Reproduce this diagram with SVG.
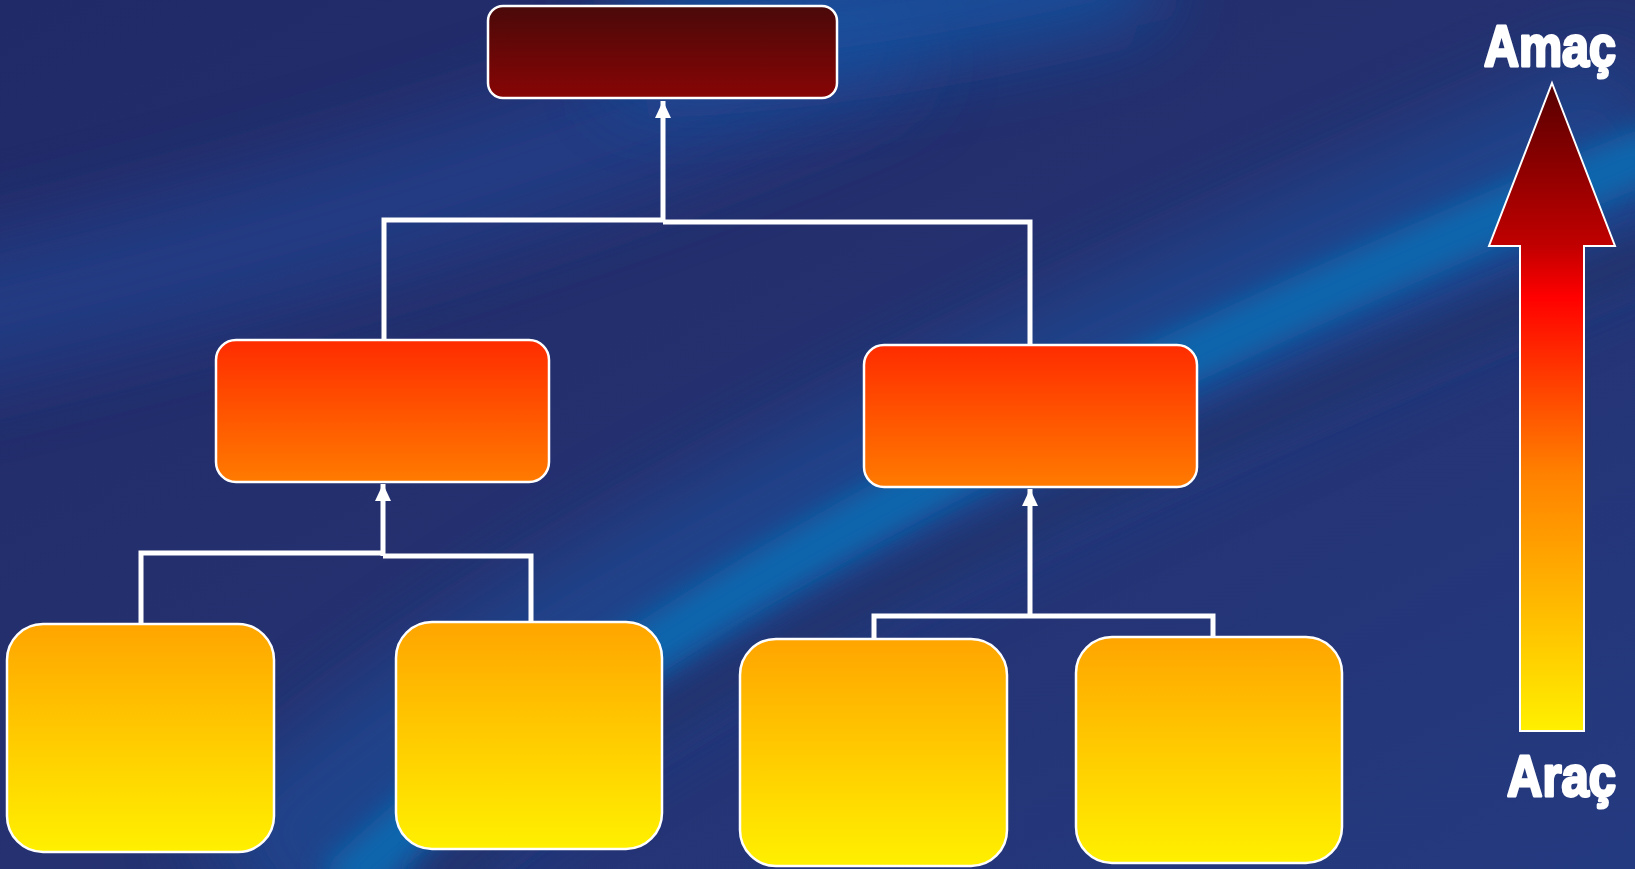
<svg xmlns="http://www.w3.org/2000/svg" width="1635" height="869" viewBox="0 0 1635 869">
<style>
.box{stroke:#ffffff;stroke-width:2.5}
.conn{fill:none;stroke:#ffffff;stroke-width:5;stroke-linejoin:miter}
.lbl{font-family:"Liberation Sans",Arial,sans-serif;font-weight:bold;font-size:58px;fill:#ffffff;stroke:#ffffff;stroke-width:3;stroke-linejoin:round}
</style>
<defs>
<linearGradient id="gTop" x1="0" y1="0" x2="0" y2="1"><stop offset="0" stop-color="#4a0909"/><stop offset="1" stop-color="#880505"/></linearGradient>
<linearGradient id="gMid" x1="0" y1="0" x2="0" y2="1"><stop offset="0" stop-color="#ff2c00"/><stop offset="1" stop-color="#ff7b00"/></linearGradient>
<linearGradient id="gLow" x1="0" y1="0" x2="0" y2="1"><stop offset="0" stop-color="#ffa500"/><stop offset="1" stop-color="#fff000"/></linearGradient>
<linearGradient id="gArrow" gradientUnits="userSpaceOnUse" x1="0" y1="83" x2="0" y2="731"><stop offset="0" stop-color="#560000"/><stop offset="0.25" stop-color="#c00000"/><stop offset="0.33" stop-color="#ff0000"/><stop offset="0.6" stop-color="#ff8000"/><stop offset="1" stop-color="#fff000"/></linearGradient>
<linearGradient id="gBg" x1="0" y1="0" x2="1" y2="1"><stop offset="0" stop-color="#212a68"/><stop offset="0.5" stop-color="#253170"/><stop offset="1" stop-color="#243a80"/></linearGradient>
<filter id="blurBig" filterUnits="userSpaceOnUse" x="-300" y="-300" width="2300" height="1500"><feGaussianBlur stdDeviation="40"/></filter>
<filter id="blurMid" filterUnits="userSpaceOnUse" x="-300" y="-300" width="2300" height="1500"><feGaussianBlur stdDeviation="14"/></filter>
<marker id="ah" markerUnits="userSpaceOnUse" markerWidth="18" markerHeight="18" viewBox="0 0 18 18" refX="17" refY="9" orient="auto"><path d="M0,1 L17,9 L0,17 z" fill="#ffffff"/></marker>
</defs>
<g id="background">
<rect x="0" y="0" width="1635" height="869" fill="url(#gBg)"/>
<path d="M-100 330 C 300 240, 600 150, 900 20" stroke="#22408a" stroke-width="130" fill="none" filter="url(#blurBig)" opacity="0.8"/>
<path d="M620 40 C 800 30, 950 10, 1150 -40" stroke="#1553a2" stroke-width="110" fill="none" filter="url(#blurBig)" opacity="0.9"/>
<path d="M260 900 C 520 660, 900 470, 1660 140" stroke="#1f4c96" stroke-width="200" fill="none" filter="url(#blurBig)" opacity="0.7"/>
<path d="M340 890 C 560 680, 900 460, 1660 150" stroke="#0c66ad" stroke-width="55" fill="none" filter="url(#blurMid)"/>
<path d="M430 890 C 640 700, 960 530, 1660 250" stroke="#24306c" stroke-width="50" fill="none" filter="url(#blurMid)" opacity="0.8"/>
</g>
<g id="connectors">
<path class="conn" d="M384 340 V220 H663"/>
<path class="conn" d="M1030 345 V222 H663"/>
<path class="conn" d="M663 222 V101" marker-end="url(#ah)"/>
<path class="conn" d="M141 624 V553 H383"/>
<path class="conn" d="M531 622 V556 H383"/>
<path class="conn" d="M383 556 V484" marker-end="url(#ah)"/>
<path class="conn" d="M874 639 V616 H1213 V637"/>
<path class="conn" d="M1030 616 V489" marker-end="url(#ah)"/>
</g>
<g id="node-top"><rect class="box" x="488" y="6" width="349" height="92" rx="15" fill="url(#gTop)"/></g>
<g id="node-mid-left"><rect class="box" x="216" y="340" width="333" height="142" rx="20" fill="url(#gMid)"/></g>
<g id="node-mid-right"><rect class="box" x="864" y="345" width="333" height="142" rx="20" fill="url(#gMid)"/></g>
<g id="node-low-1"><rect class="box" x="7" y="624" width="267" height="228" rx="36" fill="url(#gLow)"/></g>
<g id="node-low-2"><rect class="box" x="396" y="622" width="266" height="227" rx="36" fill="url(#gLow)"/></g>
<g id="node-low-3"><rect class="box" x="740" y="639" width="267" height="227" rx="36" fill="url(#gLow)"/></g>
<g id="node-low-4"><rect class="box" x="1076" y="637" width="266" height="226" rx="36" fill="url(#gLow)"/></g>
<g id="scale-arrow">
<polygon points="1552,83 1615,246 1584,246 1584,731 1520,731 1520,246 1489,246" fill="url(#gArrow)" stroke="#ffffff" stroke-width="2"/>
<text class="lbl" x="1484" y="66" textLength="132" lengthAdjust="spacingAndGlyphs">Amaç</text>
<text class="lbl" x="1507" y="796" textLength="109" lengthAdjust="spacingAndGlyphs">Araç</text>
</g>
</svg>
